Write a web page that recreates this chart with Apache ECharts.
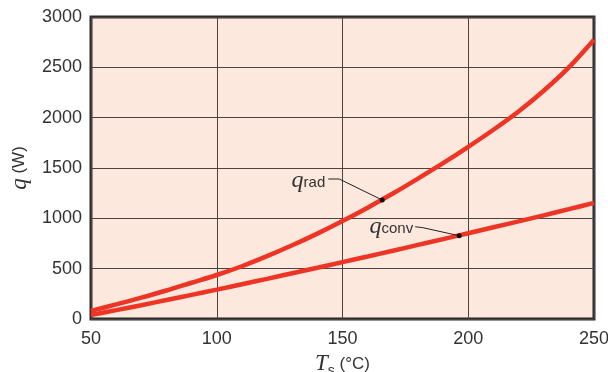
<!DOCTYPE html>
<html>
<head>
<meta charset="utf-8">
<script src="https://cdn.jsdelivr.net/npm/echarts@6/dist/echarts.min.js"></script>
<style>
html,body{margin:0;padding:0;background:#fff;}
#c{width:608px;height:372px;}
</style>
</head>
<body>
<div id="c"></div>
<script>
// Surface temperature Ts (°C)
const tempC = [50, 60, 70, 80, 90, 100, 110, 120, 130, 140, 150, 160, 170, 180, 190, 200, 210, 220, 230, 240, 250];
// Radiation heat rate q_rad (W)
const qRad = [80, 145, 212, 283, 360, 437, 524, 624, 732, 848, 973, 1106, 1246, 1395, 1548, 1710, 1880, 2062, 2268, 2500, 2775];
// Convection heat rate q_conv (W)
const qConv = [40, 88, 137, 188, 240, 292, 345, 399, 454, 509, 565, 621, 678, 736, 794, 852, 911, 970, 1030, 1091, 1153];
// Annotation anchor points on the curves [Ts, q]
const radAnchor = [165.8, 1182];
const convAnchor = [196.4, 827];

const RED = '#ee3424';
const chart = echarts.init(document.getElementById('c'), null, {renderer: 'canvas'});

const option = {
  animation: false,
  grid: {
    left: 91, right: 14, top: 17, bottom: 53,
    containLabel: false, outerBoundsMode: 'none',
    show: true, backgroundColor: '#fde8dd', borderColor: '#2b2b2b', borderWidth: 3
  },
  xAxis: {
    type: 'value', min: 50, max: 250, interval: 50,
    axisLine: {show: false}, axisTick: {show: false},
    splitLine: {show: true, lineStyle: {color: '#4a4343', width: 1}},
    axisLabel: {fontFamily: 'Liberation Sans', fontSize: 18, color: '#333', margin: 11,
      formatter: v => String(v)},
    name: '{t|T}{s|s}{u| (°C)}',
    nameLocation: 'middle', nameGap: 28,
    nameTextStyle: {
      rich: {
        t: {fontFamily: 'Liberation Serif', fontStyle: 'italic', fontSize: 23, color: '#333'},
        s: {fontFamily: 'Liberation Sans', fontSize: 14, color: '#333', padding: [14, 0, 0, 0]},
        u: {fontFamily: 'Liberation Sans', fontSize: 17, color: '#333'}
      }
    }
  },
  yAxis: {
    type: 'value', min: 0, max: 3000, interval: 500,
    axisLine: {show: false}, axisTick: {show: false},
    splitLine: {show: true, lineStyle: {color: '#4a4343', width: 1}},
    axisLabel: {fontFamily: 'Liberation Sans', fontSize: 18, color: '#333', margin: 9,
      formatter: v => String(v)},
    name: '{q|q}{u| (W)}',
    nameLocation: 'middle', nameGap: 60, nameRotate: 90,
    nameTextStyle: {
      rich: {
        q: {fontFamily: 'Liberation Serif', fontStyle: 'italic', fontSize: 23, color: '#333'},
        u: {fontFamily: 'Liberation Sans', fontSize: 17, color: '#333'}
      }
    }
  },
  series: [
    {
      name: 'q_rad', type: 'line', smooth: 0.3, showSymbol: false,
      data: tempC.map((t, i) => [t, qRad[i]]),
      lineStyle: {color: RED, width: 4.5}, z: 3
    },
    {
      name: 'q_conv', type: 'line', smooth: 0.3, showSymbol: false,
      data: tempC.map((t, i) => [t, qConv[i]]),
      lineStyle: {color: RED, width: 4.5}, z: 3
    }
  ]
};
chart.setOption(option);

function annot(anchor, leader, textPos, sub) {
  const p = chart.convertToPixel({gridIndex: 0}, anchor);
  const pts = [[p[0], p[1]]].concat(leader.map(o => [p[0] + o[0], p[1] + o[1]]));
  return [
    {type: 'polyline', shape: {points: pts}, style: {stroke: '#222', lineWidth: 1, fill: null}, z: 10},
    {type: 'circle', shape: {cx: p[0], cy: p[1], r: 2.5}, style: {fill: '#111'}, z: 11},
    {type: 'text', x: p[0] + textPos[0], y: p[1] + textPos[1], z: 11,
      style: {
        text: '{q|q}{s|' + sub + '}', align: 'right', verticalAlign: 'middle',
        rich: {
          q: {fontFamily: 'Liberation Serif', fontStyle: 'italic', fontSize: 24, fill: '#333'},
          s: {fontFamily: 'Liberation Sans', fontSize: 15, fill: '#333', padding: [4, 0, 0, 0]}
        }
      }}
  ];
}

chart.setOption({
  graphic: [].concat(
    annot(radAnchor, [[-43, -21], [-54, -21]], [-57, -19], 'rad'),
    annot(convAnchor, [[-36, -8], [-44, -9]], [-46, -9], 'conv')
  )
});
</script>
</body>
</html>
